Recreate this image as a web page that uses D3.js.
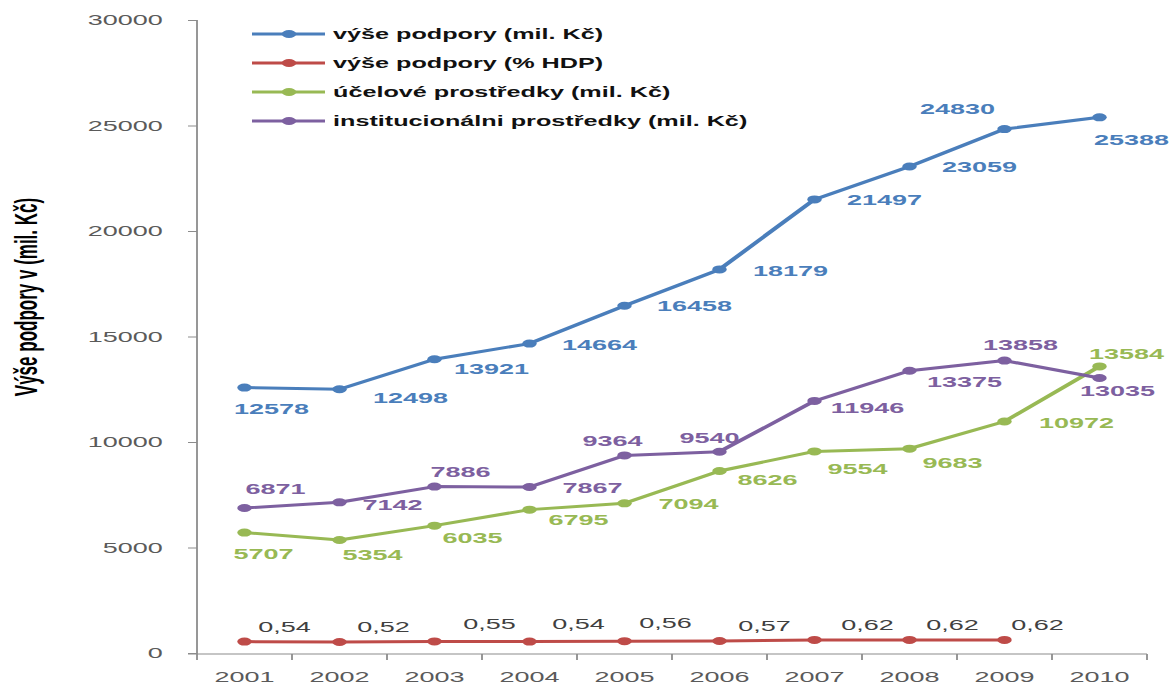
<!DOCTYPE html>
<html>
<head>
<meta charset="utf-8">
<script src="https://cdn.jsdelivr.net/npm/d3@7"></script>
<style>
  body { margin: 0; background: #fff; }
  svg { display: block; font-family: "Liberation Sans", Arial, sans-serif; }
</style>
</head>
<body>
<script>
var years = ["2001","2002","2003","2004","2005","2006","2007","2008","2009","2010"];
var vysePodpory = [12578, 12498, 13921, 14664, 16458, 18179, 21497, 23059, 24830, 25388];
var vyseHdp = [0.54, 0.52, 0.55, 0.54, 0.56, 0.57, 0.62, 0.62, 0.62];
var ucelove = [5707, 5354, 6035, 6795, 7094, 8626, 9554, 9683, 10972, 13584];
var institucionalni = [6871, 7142, 7886, 7867, 9364, 9540, 11946, 13375, 13858, 13035];
var yTicks = [0, 5000, 10000, 15000, 20000, 25000, 30000];
var legendNames = ["výše podpory (mil. Kč)", "výše podpory (% HDP)", "účelové prostředky (mil. Kč)", "institucionálni prostředky (mil. Kč)"];

// label offsets from the point, in screen px (placement only)
var offBlue = [[27,21],[71,9],[57,10],[70,1],[70,0],[71,1],[70,0],[70,0],[-47,-20],[32,23]];
var offRed = [[40,-15],[44,-15],[55,-18],[49,-18],[41,-18],[45,-15],[53,-15],[43,-15],[33,-15]];
var offGreen = [[19,21],[33,15],[38,12],[49,10],[64,1],[48,9],[43,17],[43,14],[72,1],[27,-13]];
var offPurple = [[31,-19],[53,3],[26,-15],[63,1],[-12,-15],[-10,-14],[53,7],[55,11],[16,-16],[18,13]];

var W = 1175, H = 687;
var S = 1.8; // the picture is stretched sideways, draw in narrow units
var svg = d3.select("body").append("svg")
  .attr("width", W).attr("height", H)
  .attr("viewBox", "0 0 " + (W / S) + " " + H)
  .attr("preserveAspectRatio", "none");

var x = d3.scaleBand().domain(years).range([197 / S, 1147 / S]);
var y = d3.scaleLinear().domain([0, 30000]).range([653, 20]);
var cx = function(i) { return x(years[i]) + x.bandwidth() / 2; };

var axisColor = "#8c8c8c", tickText = "#5a5a5a";

// y axis
var yAxis = svg.append("g").attr("transform", "translate(" + (197 / S) + ",0)")
  .call(d3.axisLeft(y).tickValues(yTicks).tickSize(5).tickPadding(14).tickFormat(d3.format("d")));
yAxis.select(".domain").attr("stroke", axisColor).attr("d", "M0,20V660");
yAxis.selectAll(".tick line").attr("stroke", axisColor);
yAxis.selectAll(".tick text").attr("fill", tickText).style("font-size", "15px");

// x axis
var xAxis = svg.append("g").attr("transform", "translate(0," + 654 + ")")
  .call(d3.axisBottom(x).tickSize(0).tickPadding(17));
xAxis.select(".domain").attr("stroke", axisColor).attr("d", "M" + (188 / S) + ",0H" + (1147 / S));
xAxis.selectAll(".tick text").attr("fill", tickText).style("font-size", "15px");
xAxis.selectAll(".sep").data(years).enter().append("line")
  .attr("x1", function(d) { return x(d) + x.bandwidth(); })
  .attr("x2", function(d) { return x(d) + x.bandwidth(); })
  .attr("y1", 0).attr("y2", 6).attr("stroke", axisColor);

// y title
svg.append("text")
  .attr("transform", "translate(" + (37 / S) + ",297) rotate(-90)")
  .attr("text-anchor", "middle")
  .style("font-size", "17px").style("font-weight", "bold").attr("fill", "#000")
  .text("Výše podpory v (mil. Kč)");

var series = [
  { vals: vysePodpory, color: "#4a7ebb", off: offBlue, k: 1, fmt: d3.format("d"), lab: "#4a7ebb", bold: true },
  { vals: vyseHdp, color: "#be4b48", off: offRed, k: 1000, fmt: function(v) { return d3.format(".2f")(v).replace(".", ","); }, lab: "#404040", bold: false },
  { vals: ucelove, color: "#98b954", off: offGreen, k: 1, fmt: d3.format("d"), lab: "#98b954", bold: true },
  { vals: institucionalni, color: "#7d60a0", off: offPurple, k: 1, fmt: d3.format("d"), lab: "#7d60a0", bold: true }
];

var line = d3.line().x(function(d, i) { return cx(i); });

series.forEach(function(s) {
  line.y(function(d) { return y(d * s.k); });
  var g = svg.append("g");
  g.append("path").datum(s.vals)
    .attr("d", line).attr("fill", "none")
    .attr("stroke", s.color).attr("stroke-width", 3).attr("stroke-linejoin", "round");
  g.selectAll("circle").data(s.vals).enter().append("circle")
    .attr("cx", function(d, i) { return cx(i); })
    .attr("cy", function(d) { return y(d * s.k); })
    .attr("r", 4).attr("fill", s.color);
  g.selectAll("text").data(s.vals).enter().append("text")
    .attr("x", function(d, i) { return cx(i) + s.off[i][0] / S; })
    .attr("y", function(d, i) { return y(d * s.k) + s.off[i][1]; })
    .attr("text-anchor", "middle").attr("dominant-baseline", "central")
    .attr("fill", s.lab).style("font-size", "15px")
    .style("font-weight", s.bold ? "bold" : "normal")
    .text(function(d) { return s.fmt(d); });
});

// legend
var legend = svg.append("g");
legendNames.forEach(function(name, i) {
  var ly = 34 + i * 29;
  legend.append("line").attr("x1", 252 / S).attr("x2", 325 / S).attr("y1", ly).attr("y2", ly)
    .attr("stroke", series[i].color).attr("stroke-width", 3);
  legend.append("circle").attr("cx", 289 / S).attr("cy", ly).attr("r", 4).attr("fill", series[i].color);
  legend.append("text").attr("x", 333 / S).attr("y", ly).attr("dominant-baseline", "central")
    .style("font-size", "14px").style("font-weight", "bold").attr("fill", "#111")
    .text(name);
});
</script>
</body>
</html>
